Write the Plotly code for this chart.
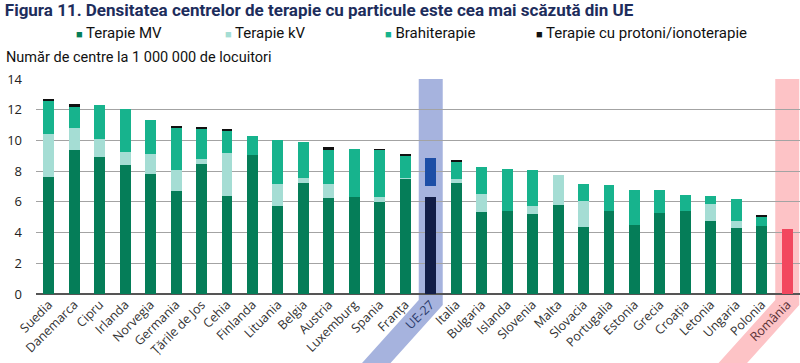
import plotly.graph_objects as go

categories = ["Suedia", "Danemarca", "Cipru", "Irlanda", "Norvegia", "Germania", "Țările de Jos",
              "Cehia", "Finlanda", "Lituania", "Belgia", "Austria", "Luxemburg", "Spania", "Franța",
              "UE-27", "Italia", "Bulgaria", "Islanda", "Slovenia", "Malta", "Slovacia", "Portugalia",
              "Estonia", "Grecia", "Croația", "Letonia", "Ungaria", "Polonia", "România"]

terapie_mv = [7.6, 9.4, 8.93, 8.39, 7.8, 6.7, 8.48, 6.35, 9.02, 5.74, 7.26, 6.26, 6.3, 6.0, 7.5,
              6.3, 7.26, 5.35, 5.41, 5.2, 5.8, 4.39, 5.39, 4.48, 5.3, 5.39, 4.74, 4.28, 4.41, 4.22]
terapie_kv = [2.85, 1.4, 1.16, 0.83, 1.29, 1.39, 0.28, 2.85, 0, 1.41, 0.28, 0.91, 0, 0.3, 0.05,
              0.76, 0.26, 1.15, 0, 0.52, 1.92, 1.65, 0, 0, 0, 0, 1.09, 0.46, 0, 0]
brahiterapie = [2.15, 1.4, 2.21, 2.8, 2.24, 2.74, 1.96, 1.47, 1.28, 2.87, 2.33, 2.26, 3.16, 3.09, 1.5,
                1.82, 1.09, 1.76, 2.74, 2.35, 0, 1.11, 1.7, 2.3, 1.44, 1.04, 0.52, 1.43, 0.66, 0]
protoni = [0.13, 0.15, 0, 0, 0, 0.1, 0.17, 0.09, 0, 0, 0, 0.11, 0, 0.04, 0.09,
           0, 0.06, 0, 0, 0, 0, 0, 0, 0, 0, 0, 0, 0, 0.08, 0]

series_names = ["Terapie MV", "Terapie kV", "Brahiterapie", "Terapie cu protoni/ionoterapie"]
y_ticks = [0, 2, 4, 6, 8, 10, 12, 14]

EU = "UE-27"
RO = "România"

C_MV, C_KV, C_BR, C_PR = "#057d58", "#a5ddd4", "#17b38d", "#111111"
C_EU_MV, C_EU_BR = "#121d47", "#1d4ea6"
C_RO = "#f2475e"
BAND_EU, BAND_RO = "#a6b3de", "#fdc3c6"
series_colors = [C_MV, C_KV, C_BR, C_PR]


def colors(base, eu=None, ro=None):
    out = []
    for c in categories:
        if c == EU and eu is not None:
            out.append(eu)
        elif c == RO and ro is not None:
            out.append(ro)
        else:
            out.append(base)
    return out


W, H = 800, 363
ML, MR, MT, MB = 36, 0, 79, 69
PW, PH = W - ML - MR, H - MT - MB
NARROW = "Liberation Sans Narrow, Arial Narrow, Roboto, sans-serif"

fig = go.Figure()
fig.add_trace(go.Bar(x=categories, y=terapie_mv, name=series_names[0],
                     marker=dict(color=colors(C_MV, C_EU_MV, C_RO), line=dict(width=0))))
fig.add_trace(go.Bar(x=categories, y=terapie_kv, name=series_names[1],
                     marker=dict(color=colors(C_KV, "rgba(0,0,0,0)"), line=dict(width=0))))
fig.add_trace(go.Bar(x=categories, y=brahiterapie, name=series_names[2],
                     marker=dict(color=colors(C_BR, C_EU_BR), line=dict(width=0))))
fig.add_trace(go.Bar(x=categories, y=protoni, name=series_names[3],
                     marker=dict(color=colors(C_PR), line=dict(width=0))))


def px2x(px):
    return (px - ML) / PW


def py2y(py):
    return (H - MB - py) / PH


def band(cat, color):
    i = categories.index(cat)
    cx = ML + (i + 0.5) * PW / len(categories)
    yb = H + 15
    pts = [(cx - 12, MT), (cx + 12, MT), (cx + 12, 305),
           (cx + 12 - 0.9 * (yb - 305), yb), (cx - 12 - 0.9 * (yb - 300), yb), (cx - 12, 300)]
    path = "M " + " L ".join(f"{px2x(x):.5f},{py2y(y):.5f}" for x, y in pts) + " Z"
    return dict(type="path", xref="paper", yref="paper", path=path,
                fillcolor=color, line=dict(width=0), layer="between")


ticktext = []
for c in categories:
    if c == EU:
        ticktext.append(f"<span style='color:#2b3a6b'>{c}</span>")
    elif c == RO:
        ticktext.append(f"<span style='color:#5a3035'>{c}</span>")
    else:
        ticktext.append(c)

# legend drawn as text entries with coloured squares
legend_x_px = [74, 223, 383, 534]
annotations = []
for name, col, lx in zip(series_names, series_colors, legend_x_px):
    annotations.append(dict(
        text=f"<span style='color:{col};font-size:11px'>■</span> {name}",
        xref="paper", yref="paper", x=px2x(lx), y=py2y(33), xanchor="left", yanchor="middle",
        showarrow=False, font=dict(family=NARROW, size=15, color="#111")))
annotations.append(dict(text="Număr de centre la 1 000 000 de locuitori", xref="paper", yref="paper",
                        x=px2x(4), y=py2y(58), xanchor="left", yanchor="middle", showarrow=False,
                        font=dict(family=NARROW, size=14.5, color="#111")))

fig.update_layout(
    width=W, height=H, autosize=False,
    margin=dict(l=ML, r=MR, t=MT, b=MB, pad=0),
    barmode="stack", bargap=0.57,
    plot_bgcolor="white", paper_bgcolor="white",
    showlegend=False,
    shapes=[band(EU, BAND_EU), band(RO, BAND_RO)],
    title=dict(text="<b>Figura 11. Densitatea centrelor de terapie cu particule este cea mai scăzută din UE</b>",
               x=0.006, xanchor="left", xref="container", y=0.99, yanchor="top", yref="container",
               font=dict(family=NARROW, size=17, color="#1d2d5c")),
    annotations=annotations,
    xaxis=dict(tickmode="array", tickvals=categories, ticktext=ticktext, tickangle=-45,
               tickfont=dict(family="Open Sans, sans-serif", size=12.5, color="#333"),
               showgrid=False, showline=False, ticks="", range=[-0.5, len(categories) - 0.5],
               automargin=False),
    yaxis=dict(range=[0, 14], tickvals=y_ticks, showgrid=True, gridcolor="#a3a3a3", gridwidth=1,
               zeroline=True, zerolinecolor="#555", zerolinewidth=1.5, ticks="", ticklabelstandoff=13,
               tickfont=dict(family="Open Sans, sans-serif", size=13, color="#222"),
               automargin=False),
)

fig.write_html("out.html", config={"displayModeBar": False},
               post_script="document.body.style.margin='0';document.body.style.overflow='hidden';")
